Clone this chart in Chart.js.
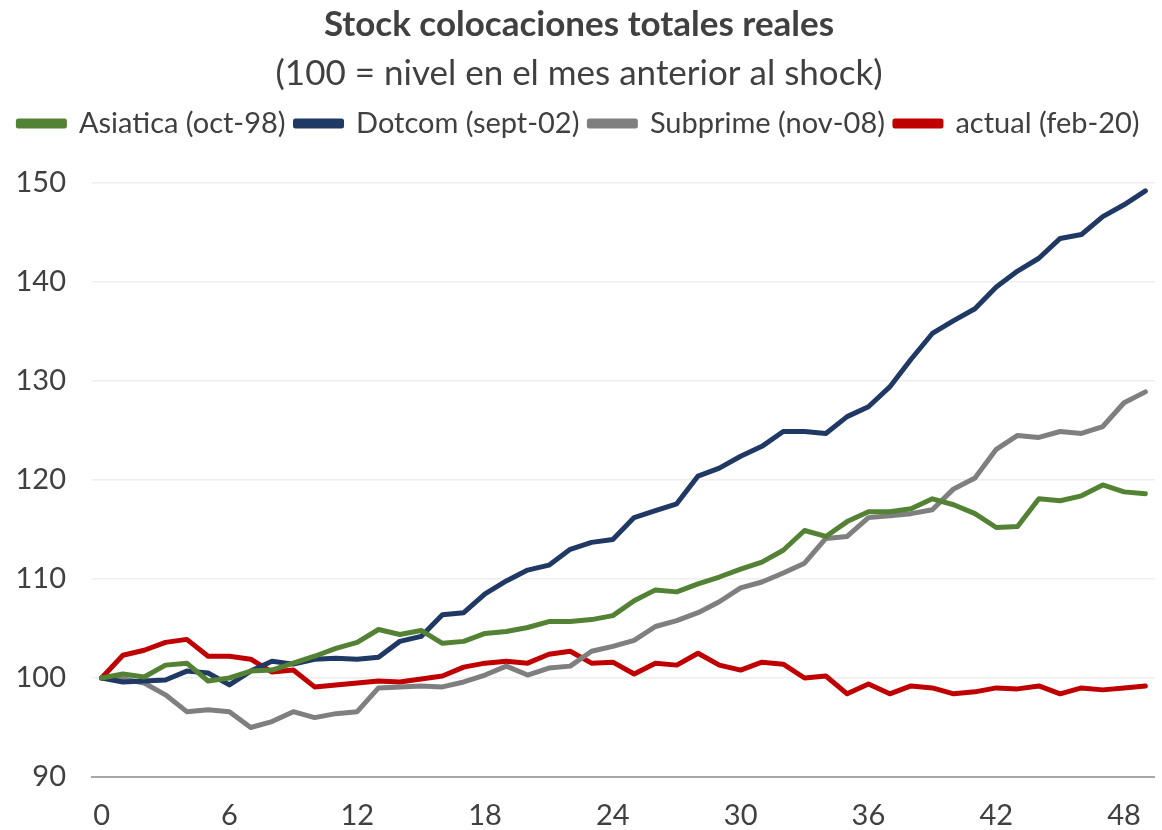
<!DOCTYPE html>
<html>
<head>
<meta charset="utf-8">
<title>Stock colocaciones totales reales</title>
<script src="https://cdn.jsdelivr.net/npm/chart.js@4/dist/chart.umd.min.js"></script>
<style>
  html, body { margin: 0; padding: 0; background: #ffffff; }
  #wrap { width: 1162px; height: 830px; }
</style>
</head>
<body>
<div id="wrap"><canvas id="myChart" width="1162" height="830"></canvas></div>
<script>
// meses desde el shock (0 = mes anterior)
const meses = [];
for (let i = 0; i <= 49; i++) meses.push(i);

const ticksX = [0, 6, 12, 18, 24, 30, 36, 42, 48];
const ticksY = [90, 100, 110, 120, 130, 140, 150];

const asiatica = [100, 100.4, 100.1, 101.3, 101.5, 99.7, 100.0, 100.7, 100.8, 101.5,
  102.2, 103.0, 103.6, 104.9, 104.4, 104.8, 103.5, 103.7, 104.5, 104.7,
  105.1, 105.7, 105.7, 105.9, 106.3, 107.8, 108.9, 108.7, 109.5, 110.2,
  111.0, 111.7, 112.9, 114.9, 114.3, 115.8, 116.8, 116.8, 117.1, 118.1,
  117.5, 116.6, 115.2, 115.3, 118.1, 117.9, 118.4, 119.5, 118.8, 118.6];

const dotcom = [100, 99.6, 99.7, 99.8, 100.7, 100.5, 99.3, 100.7, 101.7, 101.4,
  101.9, 102.0, 101.9, 102.1, 103.7, 104.2, 106.4, 106.6, 108.5, 109.8,
  110.9, 111.4, 113.0, 113.7, 114.0, 116.2, 116.9, 117.6, 120.4, 121.2,
  122.4, 123.4, 124.9, 124.9, 124.7, 126.4, 127.4, 129.4, 132.2, 134.8,
  136.1, 137.3, 139.5, 141.1, 142.4, 144.4, 144.8, 146.6, 147.8, 149.2];

const subprime = [100, 99.9, 99.5, 98.3, 96.6, 96.8, 96.6, 95.0, 95.6, 96.6,
  96.0, 96.4, 96.6, 99.0, 99.1, 99.2, 99.1, 99.6, 100.3, 101.2,
  100.3, 101.0, 101.2, 102.7, 103.2, 103.8, 105.2, 105.8, 106.6, 107.7,
  109.1, 109.7, 110.6, 111.6, 114.1, 114.3, 116.2, 116.4, 116.6, 117.0,
  119.1, 120.2, 123.1, 124.5, 124.3, 124.9, 124.7, 125.4, 127.8, 128.9];

const actual = [100, 102.3, 102.8, 103.6, 103.9, 102.2, 102.2, 101.9, 100.6, 100.8,
  99.1, 99.3, 99.5, 99.7, 99.6, 99.9, 100.2, 101.1, 101.5, 101.7,
  101.5, 102.4, 102.7, 101.5, 101.6, 100.4, 101.5, 101.3, 102.5, 101.3,
  100.8, 101.6, 101.4, 100.0, 100.2, 98.4, 99.4, 98.4, 99.2, 99.0,
  98.4, 98.6, 99.0, 98.9, 99.2, 98.4, 99.0, 98.8, 99.0, 99.2];

const series = [
  { label: 'Asiatica (oct-98)', values: asiatica, color: '#548235' },
  { label: 'Dotcom (sept-02)', values: dotcom, color: '#203864' },
  { label: 'Subprime (nov-08)', values: subprime, color: '#7f7f7f' },
  { label: 'actual (feb-20)', values: actual, color: '#c00000' }
];

const FONT = 'Lato, "Open Sans", sans-serif';
const TEXT = '#404040';

function toPoints(values) {
  return values.map((v, i) => ({ x: meses[i], y: v }));
}

// extra room under the legend, before the plot
const legendGap = {
  id: 'legendGap',
  beforeInit(chart) {
    const fit = chart.legend.fit;
    chart.legend.fit = function () {
      fit.bind(chart.legend)();
      this.height += 35;
    };
  }
};

let ctx = document.getElementById('myChart');

const config = {
  type: 'line',
  data: {
    datasets: series.map(s => ({
      label: s.label,
      data: toPoints(s.values),
      borderColor: s.color,
      backgroundColor: s.color,
      borderWidth: 5,
      pointRadius: 0,
      tension: 0,
      borderJoinStyle: 'round',
      borderCapStyle: 'round'
    }))
  },
  options: {
    responsive: false,
    animation: false,
    layout: { padding: { left: 0, right: 4, top: 0, bottom: 0 } },
    plugins: {
      title: {
        display: true,
        text: 'Stock colocaciones totales reales',
        color: TEXT,
        font: { family: FONT, size: 35, weight: 'bold' },
        padding: { top: 4, bottom: 4 }
      },
      subtitle: {
        display: true,
        text: '(100 = nivel en el mes anterior al shock)',
        color: TEXT,
        font: { family: FONT, size: 35 },
        padding: { top: 3, bottom: 4 }
      },
      legend: {
        display: true,
        position: 'top',
        labels: {
          color: TEXT,
          font: { family: FONT, size: 29 },
          boxWidth: 46,
          boxHeight: 5,
          padding: 10
        }
      },
      tooltip: { enabled: false }
    },
    scales: {
      x: {
        type: 'linear',
        min: -0.45,
        max: 49.45,
        afterBuildTicks: axis => { axis.ticks = ticksX.map(v => ({ value: v })); },
        afterFit: axis => { axis.height = 53; },
        grid: { display: false, drawTicks: false },
        border: { display: true, color: '#a6a6a6', width: 2 },
        ticks: {
          color: TEXT,
          font: { family: FONT, size: 29 },
          padding: 21,
          maxRotation: 0
        }
      },
      y: {
        min: 90,
        max: 150,
        afterBuildTicks: axis => { axis.ticks = ticksY.map(v => ({ value: v })); },
        afterFit: axis => { axis.width = 92; },
        grid: { color: '#eeeeee', lineWidth: 1.5, drawTicks: false },
        border: { display: false },
        ticks: {
          color: TEXT,
          font: { family: FONT, size: 29 },
          padding: 26
        }
      }
    }
  },
  plugins: [legendGap]
};

let myChart = new Chart(ctx, config);
</script>
</body>
</html>
